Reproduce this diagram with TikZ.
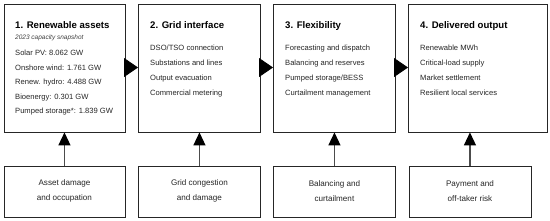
\documentclass[tikz,border=0pt]{standalone}
\usepackage{fontspec}
\setmainfont{Liberation Sans}
\usetikzlibrary{arrows.meta}
\begin{document}
\begin{tikzpicture}[x=1pt,y=-1pt,
  box/.style={draw=black!85,line width=0.9pt,fill=white},
  ttl/.style={anchor=base west,font=\bfseries\fontsize{9.6}{11}\selectfont,inner sep=0pt},
  itm/.style={anchor=base west,font=\fontsize{7.6}{9}\selectfont,text=black!85,inner sep=0pt},
  sub/.style={anchor=base west,font=\itshape\fontsize{6.5}{7}\selectfont,text=black!75,inner sep=0pt},
  low/.style={font=\fontsize{8.1}{15}\selectfont,text=black!85,align=center},
  harr/.style={-{Triangle[width=19pt,length=14pt]},line width=0.8pt},
  varr/.style={draw=black!70,line width=1.3pt,-{Triangle[width=12pt,length=13pt,color=black]}}
]
\useasboundingbox (0,0) rectangle (550,220);
% top boxes
\node[box,minimum width=121pt,minimum height=128pt,anchor=north west,inner sep=0pt] (b1) at (3.5,3.5) {};
\node[box,minimum width=122pt,minimum height=128pt,anchor=north west,inner sep=0pt] (b2) at (138,3.5) {};
\node[box,minimum width=122pt,minimum height=128pt,anchor=north west,inner sep=0pt] (b3) at (273,3.5) {};
\node[box,minimum width=139pt,minimum height=128pt,anchor=north west,inner sep=0pt] (b4) at (408,3.5) {};
% bottom boxes
\node[box,minimum width=121pt,minimum height=51pt,anchor=north west,inner sep=0pt] (r1) at (3.5,166) {};
\node[box,minimum width=122pt,minimum height=51pt,anchor=north west,inner sep=0pt] (r2) at (138,166) {};
\node[box,minimum width=122pt,minimum height=51pt,anchor=north west,inner sep=0pt] (r3) at (273,166) {};
\node[box,minimum width=122pt,minimum height=51pt,anchor=north west,inner sep=0pt] (r4) at (408.5,166) {};
% texts box1
\node[ttl] (t1) at (15,28) {1. Renewable assets};
\node[sub] (s1) at (15,39.5) {2023 capacity snapshot};
\node[itm] (a1) at (15,55) {Solar PV: 8.062 GW};
\node[itm] (a2) at (15,70) {Onshore wind: 1.761 GW};
\node[itm] (a3) at (15,84.5) {Renew. hydro: 4.488 GW};
\node[itm] (a4) at (15,99) {Bioenergy: 0.301 GW};
\node[itm] (a5) at (15,113.5) {Pumped storage*: 1.839 GW};
% box2
\node[ttl] (t2) at (150,28) {2. Grid interface};
\node[itm] (c1) at (150,50) {DSO/TSO connection};
\node[itm] (c2) at (150,65) {Substations and lines};
\node[itm] (c3) at (150,80) {Output evacuation};
\node[itm] (c4) at (150,95.5) {Commercial metering};
% box3
\node[ttl] (t3) at (285,28) {3. Flexibility};
\node[itm] (d1) at (285,50) {Forecasting and dispatch};
\node[itm] (d2) at (285,65) {Balancing and reserves};
\node[itm] (d3) at (285,80) {Pumped storage/BESS};
\node[itm] (d4) at (285,95.5) {Curtailment management};
% box4
\node[ttl] (t4) at (420,28) {4. Delivered output};
\node[itm] (e1) at (420,50) {Renewable MWh};
\node[itm] (e2) at (420,65) {Critical-load supply};
\node[itm] (e3) at (420,80) {Market settlement};
\node[itm] (e4) at (420,95.5) {Resilient local services};
% bottom texts
\node[low] at ([yshift=1pt]r1.center) {Asset damage\\and occupation};
\node[low] at ([yshift=1pt]r2.center) {Grid congestion\\and damage};
\node[low] at ([yshift=1pt]r3.center) {Balancing and\\curtailment};
\node[low] at ([yshift=1pt]r4.center) {Payment and\\off-taker risk};
% horizontal arrows
\draw[harr] (b1.east |- 0,67.5) -- (b2.west |- 0,67.5);
\draw[harr] (b2.east |- 0,67.5) -- (b3.west |- 0,67.5);
\draw[harr] (b3.east |- 0,67.5) -- (b4.west |- 0,67.5);
% vertical arrows
\draw[varr] (r1.north) -- (r1.north |- b1.south);
\draw[varr] (r2.north) -- (r2.north |- b2.south);
\draw[varr] (r3.north) -- (r3.north |- b3.south);
\draw[varr] (r4.north) -- (r4.north |- b4.south);
\end{tikzpicture}
\end{document}
